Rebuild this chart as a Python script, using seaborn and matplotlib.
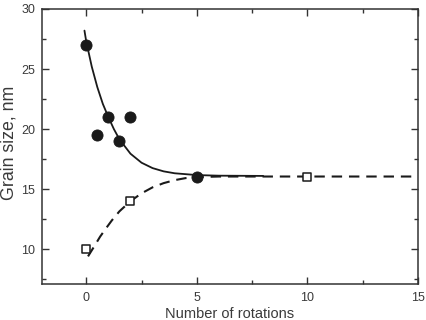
import matplotlib
matplotlib.use("Agg")
import matplotlib.pyplot as plt
from matplotlib.ticker import MultipleLocator
import seaborn as sns
import pandas as pd

# Measured grain sizes
circle_x = [0, 0.5, 1, 1.5, 2, 5]
circle_y = [27, 19.5, 21, 19, 21, 16]
square_x = [0, 2, 10]
square_y = [10, 14, 16]

# Fitted curves
solid_x = [-0.08, 0.0, 0.25, 0.5, 0.75, 1.0, 1.25, 1.5, 2.0, 2.5, 3.0, 3.5, 4.0, 5.0, 6.0, 8.0]
solid_y = [28.2, 27.3, 25.2, 23.5, 22.1, 21.0, 20.0, 19.15, 17.95, 17.2, 16.75, 16.48, 16.32, 16.17, 16.12, 16.1]
dashed_x = [0.08, 0.35, 0.63, 0.9, 1.16, 1.5, 2.0, 2.5, 3.0, 3.5, 4.0, 4.5, 5.0, 6.0, 15.0]
dashed_y = [9.4, 10.2, 11.05, 11.75, 12.4, 13.15, 14.0, 14.65, 15.15, 15.5, 15.75, 15.92, 16.0, 16.05, 16.05]

x_ticks = [0, 5, 10, 15]
y_ticks = [10, 15, 20, 25, 30]

sns.set_style("ticks")
plt.rcParams['font.family'] = ['Liberation Sans', 'DejaVu Sans']

fig = plt.figure(figsize=(4.26, 3.2), dpi=100)
ax = fig.add_axes([42/426, 1-284/320, (418-42)/426, (284-9)/320])

df_s = pd.DataFrame({"x": solid_x, "y": solid_y})
df_d = pd.DataFrame({"x": dashed_x, "y": dashed_y})
sns.lineplot(data=df_s, x="x", y="y", ax=ax, color="#1a1a1a", lw=1.3, sort=False, estimator=None)
sns.lineplot(data=df_d, x="x", y="y", ax=ax, color="#1a1a1a", lw=1.5, sort=False, estimator=None,
             dashes=False)
ax.lines[-1].set_dashes((5, 3.3))

sns.scatterplot(x=circle_x, y=circle_y, ax=ax, color="#1a1a1a", s=64, marker="o",
                edgecolor="#1a1a1a", zorder=5)
sns.scatterplot(x=square_x, y=square_y, ax=ax, facecolor="white", s=34, marker="s",
                edgecolor="#1a1a1a", linewidth=1.1, zorder=5)

ax.set_xlim(-2, 15)
ax.set_ylim(7.1, 30)
ax.set_xticks(x_ticks)
ax.set_yticks(y_ticks)
ax.xaxis.set_minor_locator(MultipleLocator(2.5))
ax.yaxis.set_minor_locator(MultipleLocator(2.5))
ax.tick_params(which="both", direction="in", top=True, right=True, colors="#333333",
               labelcolor="#3a3a3a", labelsize=9, width=1)
ax.tick_params(which="major", length=5)
ax.tick_params(axis="x", which="major", pad=6)
ax.tick_params(axis="y", which="major", pad=5)
ax.tick_params(which="minor", length=3)
for sp in ax.spines.values():
    sp.set_color("#333333")
    sp.set_linewidth(1.1)

ax.set_xlabel("Number of rotations", fontsize=10.5, color="#3a3a3a", labelpad=2)
ax.set_ylabel("Grain size, nm", fontsize=12.8, color="#3a3a3a")
ax.yaxis.set_label_coords(-0.066, 0.515)

fig.savefig("out.png", dpi=100)
